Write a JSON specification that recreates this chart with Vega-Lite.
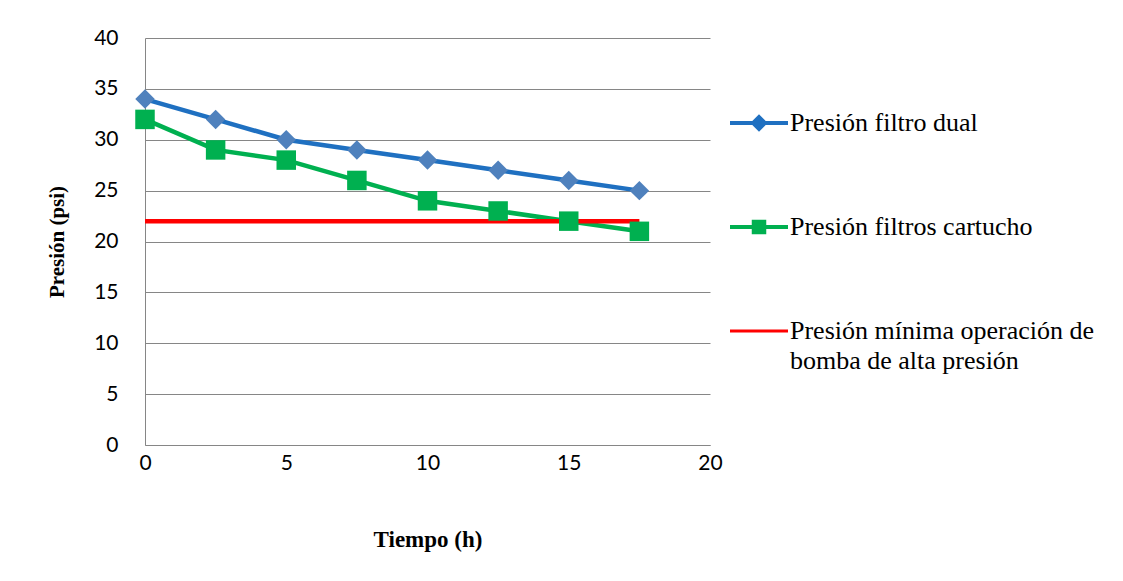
{
  "$schema": "https://vega.github.io/schema/vega-lite/v6.json",
  "width": 565,
  "height": 407,
  "autosize": {"type": "none"},
  "padding": {"left": 145, "top": 38, "right": 413, "bottom": 136},
  "background": "white",
  "data": {
    "values": [
      {"t": 0, "p": 34, "serie": "Presión filtro dual"},
      {"t": 2.5, "p": 32, "serie": "Presión filtro dual"},
      {"t": 5, "p": 30, "serie": "Presión filtro dual"},
      {"t": 7.5, "p": 29, "serie": "Presión filtro dual"},
      {"t": 10, "p": 28, "serie": "Presión filtro dual"},
      {"t": 12.5, "p": 27, "serie": "Presión filtro dual"},
      {"t": 15, "p": 26, "serie": "Presión filtro dual"},
      {"t": 17.5, "p": 25, "serie": "Presión filtro dual"},
      {"t": 0, "p": 32, "serie": "Presión filtros cartucho"},
      {"t": 2.5, "p": 29, "serie": "Presión filtros cartucho"},
      {"t": 5, "p": 28, "serie": "Presión filtros cartucho"},
      {"t": 7.5, "p": 26, "serie": "Presión filtros cartucho"},
      {"t": 10, "p": 24, "serie": "Presión filtros cartucho"},
      {"t": 12.5, "p": 23, "serie": "Presión filtros cartucho"},
      {"t": 15, "p": 22, "serie": "Presión filtros cartucho"},
      {"t": 17.5, "p": 21, "serie": "Presión filtros cartucho"},
      {"t": 0, "p": 22, "serie": "Presión mínima operación de bomba de alta presión"},
      {"t": 17.5, "p": 22, "serie": "Presión mínima operación de bomba de alta presión"}
    ]
  },
  "encoding": {
    "x": {
      "field": "t", "type": "quantitative",
      "scale": {"domain": [0, 20], "nice": false},
      "axis": {
        "values": [0, 5, 10, 15, 20], "title": "Tiempo (h)", "grid": false,
        "ticks": false, "domain": true, "domainColor": "#868686",
        "labelFlush": false, "labelBound": false, "labelOverlap": false,
        "labelPadding": 7, "labelFont": "Lato", "labelFontSize": 21, "labelColor": "#000",
        "titleFont": "Liberation Serif", "titleFontSize": 23, "titleFontWeight": "bold",
        "titleColor": "#000", "titlePadding": 55
      }
    },
    "y": {
      "field": "p", "type": "quantitative",
      "scale": {"domain": [0, 40], "nice": false},
      "axis": {
        "values": [0, 5, 10, 15, 20, 25, 30, 35, 40], "title": "Presión (psi)",
        "grid": true, "gridColor": "#868686", "ticks": false, "domainColor": "#868686",
        "labelFlush": false, "labelBound": false, "labelOverlap": false,
        "labelPadding": 27, "labelFont": "Lato", "labelFontSize": 21, "labelColor": "#000",
        "titleFont": "Liberation Serif", "titleFontSize": 21, "titleFontWeight": "bold",
        "titleColor": "#000", "titlePadding": 26
      }
    },
    "color": {
      "field": "serie", "type": "nominal",
      "scale": {
        "domain": ["Presión filtro dual", "Presión filtros cartucho", "Presión mínima operación de bomba de alta presión"],
        "range": ["#1F70C1", "#00B050", "#FF0000"]
      },
      "legend": {
        "title": null, "orient": "none", "legendX": 585, "legendY": 56,
        "symbolSize": 3364, "symbolStrokeWidth": 0, "rowPadding": 62,
        "labelFont": "Liberation Serif", "labelFontSize": 26, "labelColor": "#000",
        "labelOffset": 2, "labelLimit": 400,
        "labelExpr": "datum.label == 'Presión mínima operación de bomba de alta presión' ? ['Presión mínima operación de', 'bomba de alta presión'] : datum.label",
        "encode": {
          "labels": {
            "update": {
              "font": {"value": "Liberation Serif"},
              "fontSize": {"value": 26},
              "fontWeight": {"value": "normal"},
              "fill": {"value": "#000000"},
              "lineHeight": {"value": 30}
            }
          },
          "symbols": {
            "update": {
              "shape": {"signal": "datum.value == 'Presión filtro dual' ? 'M-1,-0.07H1V0.07H-1Z M0,-0.3L0.3,0L0,0.3L-0.3,0Z' : datum.value == 'Presión filtros cartucho' ? 'M-1,-0.07H1V0.07H-1Z M-0.25,-0.25H0.25V0.25H-0.25Z' : 'M-1,-0.05H1V0.05H-1Z'"},
              "fill": {"signal": "scale('color', datum.value)"},
              "opacity": {"value": 1},
              "fillOpacity": {"value": 1},
              "strokeWidth": {"value": 0}
            }
          }
        }
      }
    }
  },
  "layer": [
    {
      "mark": {"type": "line", "strokeWidth": 4.5},
      "encoding": {"detail": {"field": "serie"}}
    },
    {
      "transform": [{"filter": "datum.serie == 'Presión filtro dual'"}],
      "mark": {"type": "point", "shape": "diamond", "filled": true, "opacity": 1, "size": 380},
      "encoding": {"color": {"value": "#4F81BD"}}
    },
    {
      "transform": [{"filter": "datum.serie == 'Presión filtros cartucho'"}],
      "mark": {"type": "point", "shape": "square", "filled": true, "opacity": 1, "size": 380},
      "encoding": {"color": {"value": "#00B050"}}
    }
  ],
  "config": {"view": {"stroke": null}}
}
